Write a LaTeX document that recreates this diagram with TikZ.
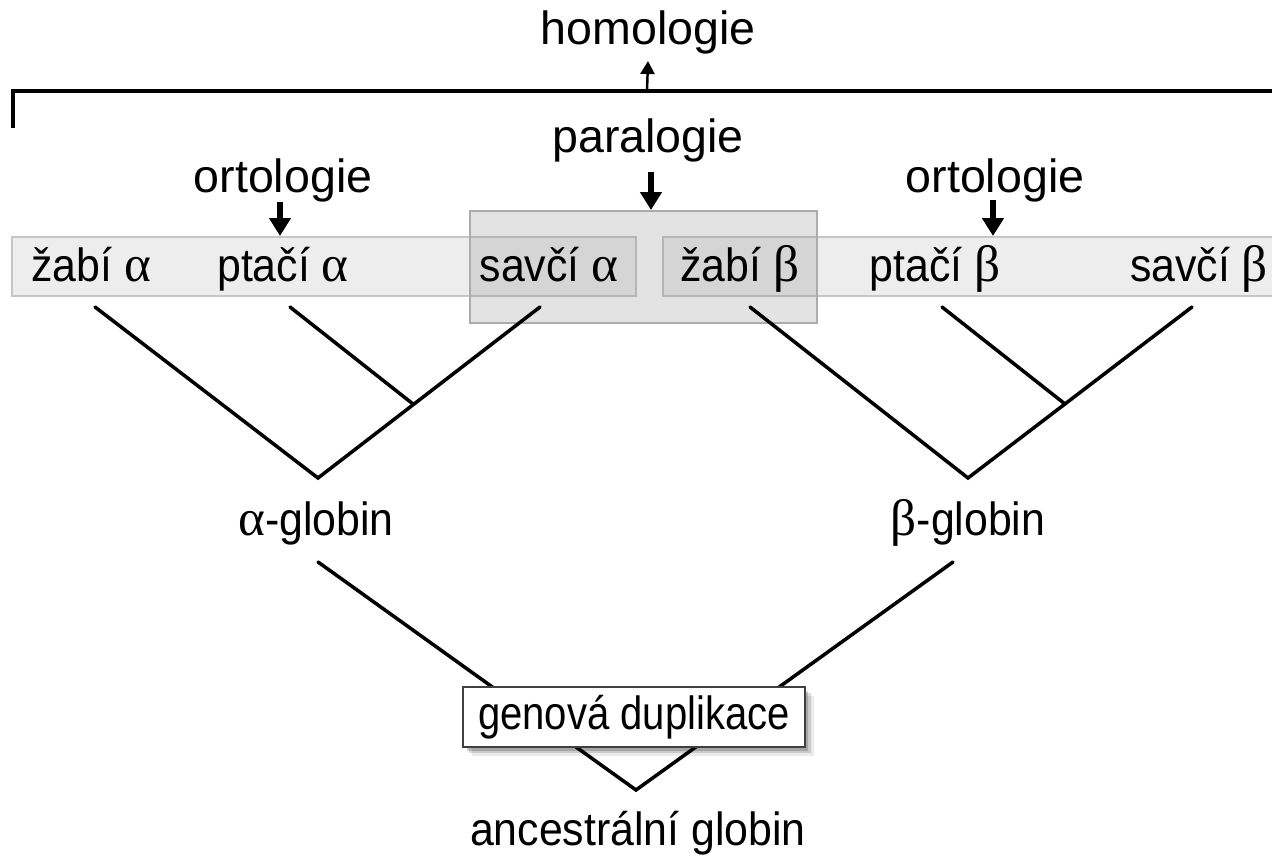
\documentclass[tikz,border=0pt]{standalone}
\usepackage{fontspec}
\setmainfont{Liberation Sans}
\newfontfamily\narrowsans[FakeStretch=0.92]{Liberation Sans}
\newfontfamily\boxsans[FakeStretch=0.86]{Liberation Sans}
\newfontfamily\grk[Scale=1.1]{Liberation Serif}
\usepackage{tikz}
\usetikzlibrary{arrows.meta, shadows}
\tikzset{head/.style={inner sep=0pt, font=\fontsize{26.5}{30}\selectfont}}
\tikzset{lbl/.style={inner sep=0pt, anchor=base, font=\fontsize{26.5}{30}\selectfont\narrowsans}}
\tikzset{branch/.style={line width=2pt, line cap=round}}
\tikzset{strip/.style={draw=gray!45, fill=gray!14, line width=0.7pt}}
\tikzset{bigarrow/.style={line width=3.3pt, -{Triangle[width=0.42cm, length=0.36cm]}}}
\tikzset{dupbox/.style={draw=black!75, fill=white, line width=0.8pt, minimum width=6.84cm, minimum height=1.2cm, inner sep=0pt,
  font=\fontsize{26.5}{30}\selectfont\boxsans,
  drop shadow={shadow xshift=2pt, shadow yshift=-2pt, opacity=0.18, fill=black},
  drop shadow={shadow xshift=3.5pt, shadow yshift=-3.5pt, opacity=0.14, fill=black},
  drop shadow={shadow xshift=5pt, shadow yshift=-5pt, opacity=0.08, fill=black}}}
\newcommand{\ga}{{\grk α}}
\newcommand{\gb}{{\grk β}}

\begin{document}
\begin{tikzpicture}[x=0.02cm, y=-0.02cm]
		\useasboundingbox (0,0) rectangle (1272,858);

		% strips and paralogy box
		\draw[strip] (12,237) rectangle (636,296);
		\draw[strip] (663,237) rectangle (1280,296);
		\draw[draw=gray!65, fill=gray, fill opacity=0.22, line width=0.7pt] (470,211) rectangle (817,323);

		\node[head] at (648,32) (hom) {homologie};
		\node[head] at (648,140) (par) {paralogie};
		\node[head] at (283,180) (orta) {ortologie};
		\node[head] at (995,180) (ortb) {ortologie};

		\node[lbl] at (91,282) (zaba) {žabí \ga};
		\node[lbl] at (283,282) (ptaka) {ptačí \ga};
		\node[lbl] at (549,282) (savca) {savčí \ga};
		\node[lbl] at (740,282) (zabb) {žabí \gb};
		\node[lbl] at (935,282) (ptakb) {ptačí \gb};
		\node[lbl] at (1199,282) (savcb) {savčí \gb};

		\node[lbl] at (316,535) (aglob) {\ga-globin};
		\node[lbl] at (968,535) (bglob) {\gb-globin};
		\node[lbl] at (638,845) (anc) {ancestrální globin};

		% tree points
		\coordinate (za) at (95,307);
		\coordinate (pa) at (290,307);
		\coordinate (sa) at (540,307);
		\coordinate (ia) at (413,404);
		\coordinate (ra) at (318,478);
		\coordinate (zb) at (750,307);
		\coordinate (pb) at (942,307);
		\coordinate (sb) at (1192,307);
		\coordinate (ib) at (1065,404);
		\coordinate (rb) at (968,478);
		\coordinate (al) at (318,562);
		\coordinate (bl) at (953,562);
		\coordinate (root) at (636,790);

		\draw[branch] (za) -- (ra) -- (sa);
		\draw[branch] (pa) -- (ia);
		\draw[branch] (zb) -- (rb) -- (sb);
		\draw[branch] (pb) -- (ib);
		\draw[branch] (al) -- (root) -- (bl);

		\node[dupbox] at (634,717) (dup) {genová duplikace};

		% bracket and arrows
		\coordinate (bl-end) at (13,128);
		\coordinate (br-end) at (1280,91);
		\draw[line width=1.8pt] (bl-end) |- (br-end);
		\draw[line width=1.4pt, -{Triangle[width=0.28cm, length=0.26cm]}] (647,91) -- (hom.south |- 0,61);
		\draw[bigarrow] (par.south |- 0,172) ++(3,0) -- ++(0,38);
		\draw[bigarrow] (orta.south |- 0,202) ++(-3,0) -- ++(0,34);
		\draw[bigarrow] (ortb.south |- 0,200) ++(-2,0) -- ++(0,36);
\end{tikzpicture}
\end{document}
